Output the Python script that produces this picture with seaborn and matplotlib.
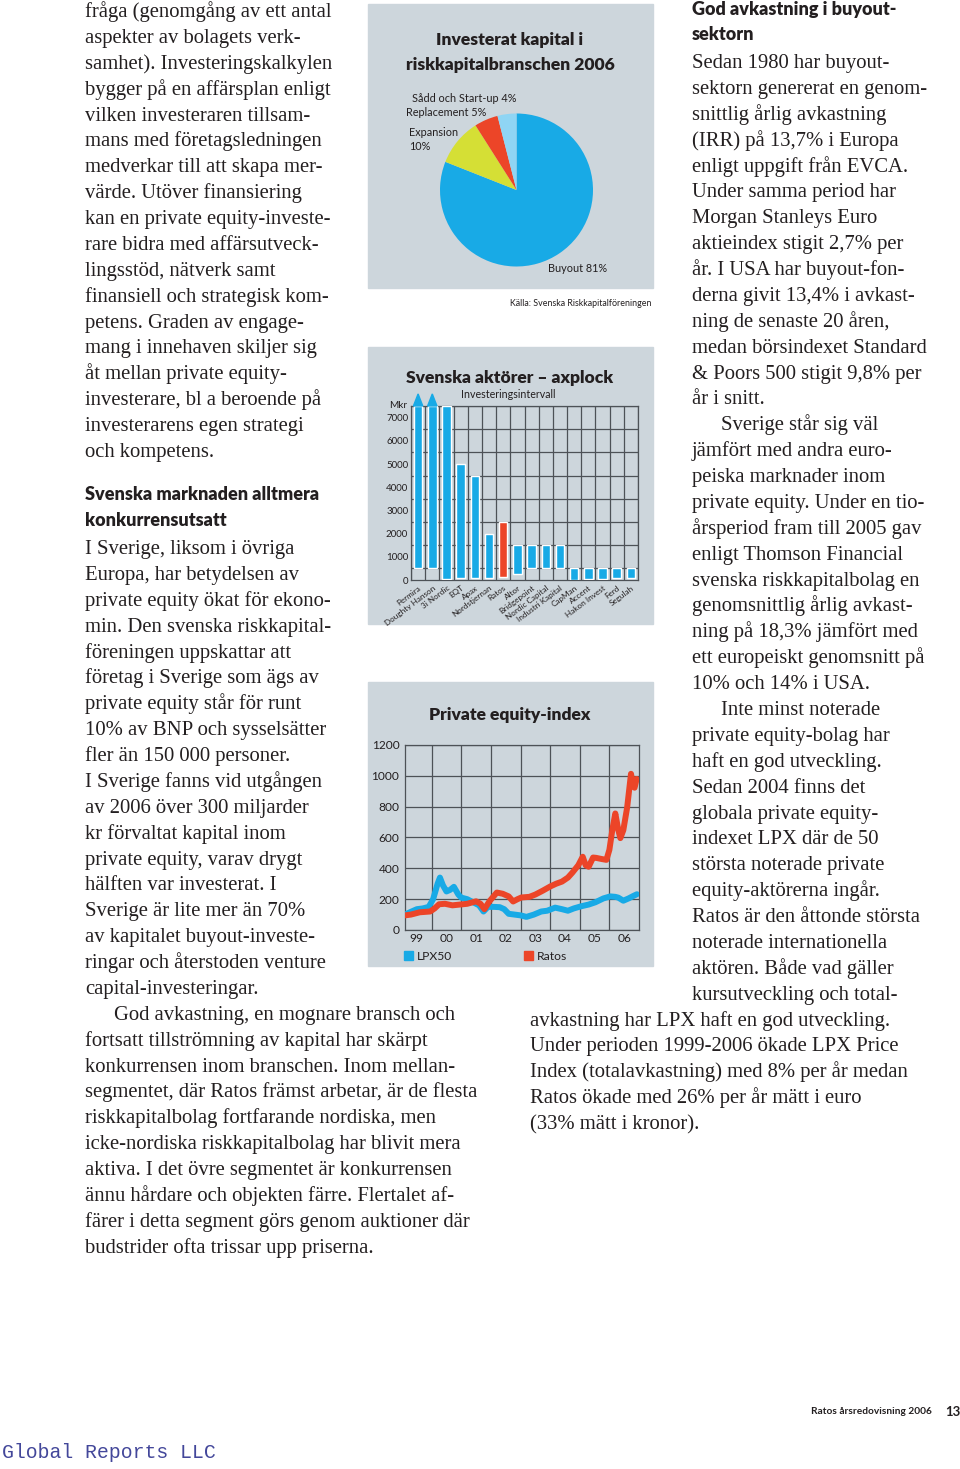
import numpy as np
import pandas as pd
import matplotlib
matplotlib.use("Agg")
import matplotlib.pyplot as plt
from matplotlib.patches import Rectangle, Polygon
import seaborn as sns

# ---------------- data ----------------
pie_labels = ["Buyout", "Expansion", "Replacement", "Sådd och Start-up"]
pie_shares = [81, 10, 5, 4]

bar_firms = ["Permira", "Doughty Hanson", "3i Nordic", "EQT", "Apax", "Nordstjernan",
             "Ratos", "Altor", "Bridgepoint", "Nordic Capital", "Industri Kapital",
             "CapMan", "Accent", "Hakon Invest", "Ferd", "Segulah"]
bar_low = [500, 500, 50, 100, 100, 100, 150, 250, 500, 500, 500, 0, 50, 50, 100, 100]
bar_high = [7500, 7500, 7500, 5000, 4500, 2000, 2500, 1500, 1500, 1500, 1500,
            500, 500, 500, 500, 500]
bar_open = [True, True, False, False, False, False, False, False, False, False, False,
            False, False, False, False, False]

lpx_years = [1999.10, 1999.30, 1999.50, 1999.70, 1999.90, 2000.05, 2000.20, 2000.28,
             2000.38, 2000.50, 2000.62, 2000.75, 2000.90, 2001.00, 2001.20, 2001.40,
             2001.60, 2001.75, 2001.90, 2002.10, 2002.30, 2002.45, 2002.60, 2002.80,
             2003.00, 2003.20, 2003.45, 2003.70, 2003.90, 2004.17, 2004.40, 2004.60,
             2004.80, 2005.07, 2005.30, 2005.53, 2005.80, 2006.03, 2006.20, 2006.30,
             2006.47, 2006.65, 2006.80, 2006.93]
lpx_values = [100, 118, 135, 140, 150, 200, 300, 340, 290, 250, 260, 280, 230, 210,
              200, 180, 160, 120, 150, 150, 148, 135, 105, 100, 95, 85, 100, 120, 125,
              145, 135, 125, 140, 155, 165, 180, 205, 218, 215, 210, 190, 205, 220, 232]

ratos_years = [1999.10, 1999.30, 1999.60, 1999.95, 2000.10, 2000.25, 2000.45, 2000.70,
               2000.95, 2001.20, 2001.50, 2001.65, 2001.78, 2001.95, 2002.20, 2002.40,
               2002.60, 2002.75, 2002.90, 2003.03, 2003.30, 2003.50, 2003.75, 2004.00,
               2004.20, 2004.40, 2004.60, 2004.75, 2004.95, 2005.10, 2005.20, 2005.30,
               2005.45, 2005.55, 2005.75, 2005.90, 2006.00, 2006.10, 2006.20, 2006.30,
               2006.37, 2006.47, 2006.60, 2006.73, 2006.80, 2006.85, 2006.92]
ratos_values = [95, 100, 115, 120, 140, 167, 170, 160, 165, 170, 186, 170, 135, 186,
                243, 235, 218, 185, 200, 211, 215, 230, 255, 282, 300, 314, 340, 372,
                420, 475, 420, 410, 470, 468, 460, 455, 520, 650, 756, 650, 596, 647,
                795, 1013, 940, 923, 980]

year_labels = ["99", "00", "01", "02", "03", "04", "05", "06"]
series_names = ["LPX50", "Ratos"]

left_a = [
    "fråga (genomgång av ett antal",
    "aspekter av bolagets verk-",
    "samhet). Investeringskalkylen",
    "bygger på en affärsplan enligt",
    "vilken investeraren tillsam-",
    "mans med företagsledningen",
    "medverkar till att skapa mer-",
    "värde. Utöver finansiering",
    "kan en private equity-investe-",
    "rare bidra med affärsutveck-",
    "lingsstöd, nätverk samt",
    "finansiell och strategisk kom-",
    "petens. Graden av engage-",
    "mang i innehaven skiljer sig",
    "åt mellan private equity-",
    "investerare, bl a beroende på",
    "investerarens egen strategi",
    "och kompetens.",
]
left_head = ["Svenska marknaden alltmera", "konkurrensutsatt"]
left_b = [
    "I Sverige, liksom i övriga",
    "Europa, har betydelsen av",
    "private equity ökat för ekono-",
    "min. Den svenska riskkapital-",
    "föreningen uppskattar att",
    "företag i Sverige som ägs av",
    "private equity står för runt",
    "10% av BNP och sysselsätter",
    "fler än 150 000 personer.",
    "I Sverige fanns vid utgången",
    "av 2006 över 300 miljarder",
    "kr förvaltat kapital inom",
    "private equity, varav drygt",
    "hälften var investerat. I",
    "Sverige är lite mer än 70%",
    "av kapitalet buyout-investe-",
    "ringar och återstoden venture",
    "capital-investeringar.",
    "\tGod avkastning, en mognare bransch och",
    "fortsatt tillströmning av kapital har skärpt",
    "konkurrensen inom branschen. Inom mellan-",
    "segmentet, där Ratos främst arbetar, är de flesta",
    "riskkapitalbolag fortfarande nordiska, men",
    "icke-nordiska riskkapitalbolag har blivit mera",
    "aktiva. I det övre segmentet är konkurrensen",
    "ännu hårdare och objekten färre. Flertalet af-",
    "färer i detta segment görs genom auktioner där",
    "budstrider ofta trissar upp priserna.",
]
right_head = ["God avkastning i buyout-", "sektorn"]
right_a = [
    "Sedan 1980 har buyout-",
    "sektorn genererat en genom-",
    "snittlig årlig avkastning",
    "(IRR) på 13,7% i Europa",
    "enligt uppgift från EVCA.",
    "Under samma period har",
    "Morgan Stanleys Euro",
    "aktieindex stigit 2,7% per",
    "år. I USA har buyout-fon-",
    "derna givit 13,4% i avkast-",
    "ning de senaste 20 åren,",
    "medan börsindexet Standard",
    "& Poors 500 stigit 9,8% per",
    "år i snitt.",
    "\tSverige står sig väl",
    "jämfört med andra euro-",
    "peiska marknader inom",
    "private equity. Under en tio-",
    "årsperiod fram till 2005 gav",
    "enligt Thomson Financial",
    "svenska riskkapitalbolag en",
    "genomsnittlig årlig avkast-",
    "ning på 18,3% jämfört med",
    "ett europeiskt genomsnitt på",
    "10% och 14% i USA.",
    "\tInte minst noterade",
    "private equity-bolag har",
    "haft en god utveckling.",
    "Sedan 2004 finns det",
    "globala private equity-",
    "indexet LPX där de 50",
    "största noterade private",
    "equity-aktörerna ingår.",
    "Ratos är den åttonde största",
    "noterade internationella",
    "aktören. Både vad gäller",
    "kursutveckling och total-",
]
right_b = [
    "avkastning har LPX haft en god utveckling.",
    "Under perioden 1999-2006 ökade LPX Price",
    "Index (totalavkastning) med 8% per år medan",
    "Ratos ökade med 26% per år mätt i euro",
    "(33% mätt i kronor).",
]

# ---------------- style ----------------
sns.set_style("white")
plt.rcParams["font.family"] = ["Lato", "DejaVu Sans"]

W, H = 960, 1469
panel_bg = "#cdd6dc"
grid_c = "#4d5257"
blue = "#18aae6"
red = "#ec4528"
ink = "#231f20"
serif = ["Liberation Serif", "DejaVu Serif"]
body_size = 14.9
step = 25.88
title_size = 12.6

fig = plt.figure(figsize=(W / 100, H / 100), dpi=100)


def px_axes(x0, y0, x1, y1):
    return fig.add_axes([x0 / W, 1 - y1 / H, (x1 - x0) / W, (y1 - y0) / H])


def ptext(x, y, s, **kw):
    return fig.text(x / W, 1 - y / H, s, **kw)


def put_lines(lines, x, y0, indent=29):
    for i, line in enumerate(lines):
        xx = x + indent if line.startswith("\t") else x
        ptext(xx, y0 + i * step + 5, line.lstrip("\t"), family=serif,
              fontsize=body_size, color=ink, va="baseline")


def panel(x0, y0, x1, y1):
    fig.patches.append(Rectangle((x0 / W, 1 - y1 / H), (x1 - x0) / W, (y1 - y0) / H,
                                 transform=fig.transFigure, color=panel_bg, zorder=-5))


# ---------------- body text ----------------
put_lines(left_a, 85, 12)
for i, line in enumerate(left_head):
    ptext(85, 495 + i * 26 + 5, line, fontsize=13, weight="heavy", color=ink,
          va="baseline")
put_lines(left_b, 85, 549)
for i, line in enumerate(right_head):
    ptext(692, 10 + i * 25.5 + 5, line, fontsize=13, weight="heavy", color=ink,
          va="baseline")
put_lines(right_a, 692, 63)
put_lines(right_b, 530, 63 + len(right_a) * step)

# ---------------- pie ----------------
panel(368, 4, 653, 288)
ptext(510, 40, "Investerat kapital i", fontsize=title_size, weight="heavy",
      ha="center", va="center", color=ink)
ptext(510, 65, "riskkapitalbranschen 2006", fontsize=title_size, weight="heavy",
      ha="center", va="center", color=ink)
axp = px_axes(440, 113.5, 593, 266.5)
axp.pie(pie_shares, colors=[blue, "#d5df35", red, "#8fd5f4"], startangle=90,
        counterclock=False, wedgeprops=dict(linewidth=0))
axp.set_xlim(-1, 1)
axp.set_ylim(-1, 1)
axp.axis("off")
small = dict(fontsize=7.8, color=ink, va="center")
ptext(412, 99, f"{pie_labels[3]} {pie_shares[3]}%", **small)
ptext(406, 112, f"{pie_labels[2]} {pie_shares[2]}%", **small)
ptext(409, 132, pie_labels[1], **small)
ptext(409, 146, f"{pie_shares[1]}%", **small)
ptext(548, 268, f"{pie_labels[0]} {pie_shares[0]}%", **small)
ptext(652, 303, "Källa: Svenska Riskkapitalföreningen", fontsize=6.4, ha="right",
      va="center", color=ink)

# ---------------- bars ----------------
panel(368, 347, 653, 624)
ptext(510, 378, "Svenska aktörer – axplock", fontsize=title_size, weight="heavy",
      ha="center", va="center", color=ink)
ptext(508, 395, "Investeringsintervall", fontsize=7.7, ha="center", va="center",
      color=ink)
ptext(389, 406, "Mkr", fontsize=7.2, va="center", color=ink)
axb = px_axes(411, 406, 638, 580)
axb.set_facecolor(panel_bg)
xb = np.arange(len(bar_firms))
heights = np.array(bar_high) - np.array(bar_low)
bcols = [red if f == "Ratos" else blue for f in bar_firms]
axb.bar(xb, heights, bottom=bar_low, width=0.6, color=bcols, zorder=3)
for xi, top, op in zip(xb, bar_high, bar_open):
    if op:
        axb.add_patch(Polygon([[xi - 0.33, top], [xi + 0.33, top], [xi, top + 520]],
                              closed=True, color=blue, clip_on=False, zorder=3))
axb.set_xlim(-0.5, len(bar_firms) - 0.5)
axb.set_ylim(0, 7500)
axb.set_xticks(xb)
axb.set_xticklabels(bar_firms, rotation=37, ha="right", rotation_mode="anchor",
                    fontsize=5.9, color=ink)
axb.set_xticks(np.arange(-0.5, len(bar_firms), 1), minor=True)
axb.set_yticks(np.arange(0, 7001, 1000))
axb.set_yticklabels([str(v) for v in range(0, 7001, 1000)], fontsize=7, color=ink)
axb.set_yticks(np.arange(0, 7501, 500), minor=True)
axb.grid(False)
axb.grid(which="minor", color=grid_c, lw=0.9, zorder=1)
axb.tick_params(which="both", length=0, pad=2)
axb.tick_params(axis="x", pad=3)
for s in axb.spines.values():
    s.set_color(grid_c)
    s.set_linewidth(0.9)

# ---------------- lines ----------------
panel(368, 682, 653, 966)
ptext(510, 715, "Private equity-index", fontsize=title_size, weight="heavy",
      ha="center", va="center", color=ink)
df = pd.concat([
    pd.DataFrame({"year": lpx_years, "value": lpx_values, "series": series_names[0]}),
    pd.DataFrame({"year": ratos_years, "value": ratos_values, "series": series_names[1]}),
])
axl = px_axes(405, 745, 639, 930)
axl.set_facecolor(panel_bg)
sns.lineplot(data=df, x="year", y="value", hue="series", hue_order=series_names,
             palette=[blue, red], estimator=None, sort=False, linewidth=4.3,
             legend=False, ax=axl, zorder=3)
axl.set_xlim(1999.1, 2007.0)
axl.set_ylim(0, 1200)
axl.set_xticks(np.arange(2000, 2007, 1))
axl.set_xticklabels([])
axl.set_xticks(np.arange(1999.5, 2007, 1), minor=True)
axl.set_xticklabels(year_labels, minor=True, fontsize=8.6, color=ink)
axl.set_yticks(np.arange(0, 1201, 200))
axl.set_yticklabels([str(v) for v in range(0, 1201, 200)], fontsize=8.6, color=ink)
axl.grid(which="major", color=grid_c, lw=0.9, zorder=1)
axl.tick_params(which="both", length=0, pad=4)
axl.tick_params(axis="x", which="both", pad=2)
axl.set_xlabel("")
axl.set_ylabel("")
for s in axl.spines.values():
    s.set_color(grid_c)
    s.set_linewidth(0.9)
for (x0, c, name) in [(404, blue, series_names[0]), (524, red, series_names[1])]:
    fig.patches.append(Rectangle((x0 / W, 1 - 960 / H), 9 / W, 9 / H,
                                 transform=fig.transFigure, color=c, zorder=2))
    ptext(x0 + 13, 956, name, fontsize=8.7, va="center", color=ink)

# ---------------- footer ----------------
ptext(932, 1412, "Ratos årsredovisning 2006", fontsize=7.3, weight="bold",
      ha="right", va="center", color=ink)
ptext(945, 1412, "13", fontsize=9.5, weight="bold", va="center", color=ink)
ptext(2, 1453, "Global Reports LLC", family=["Liberation Mono", "DejaVu Sans Mono"],
      fontsize=14.2, color="#43479a", va="center")

fig.savefig("out.png", dpi=100, facecolor="white")
